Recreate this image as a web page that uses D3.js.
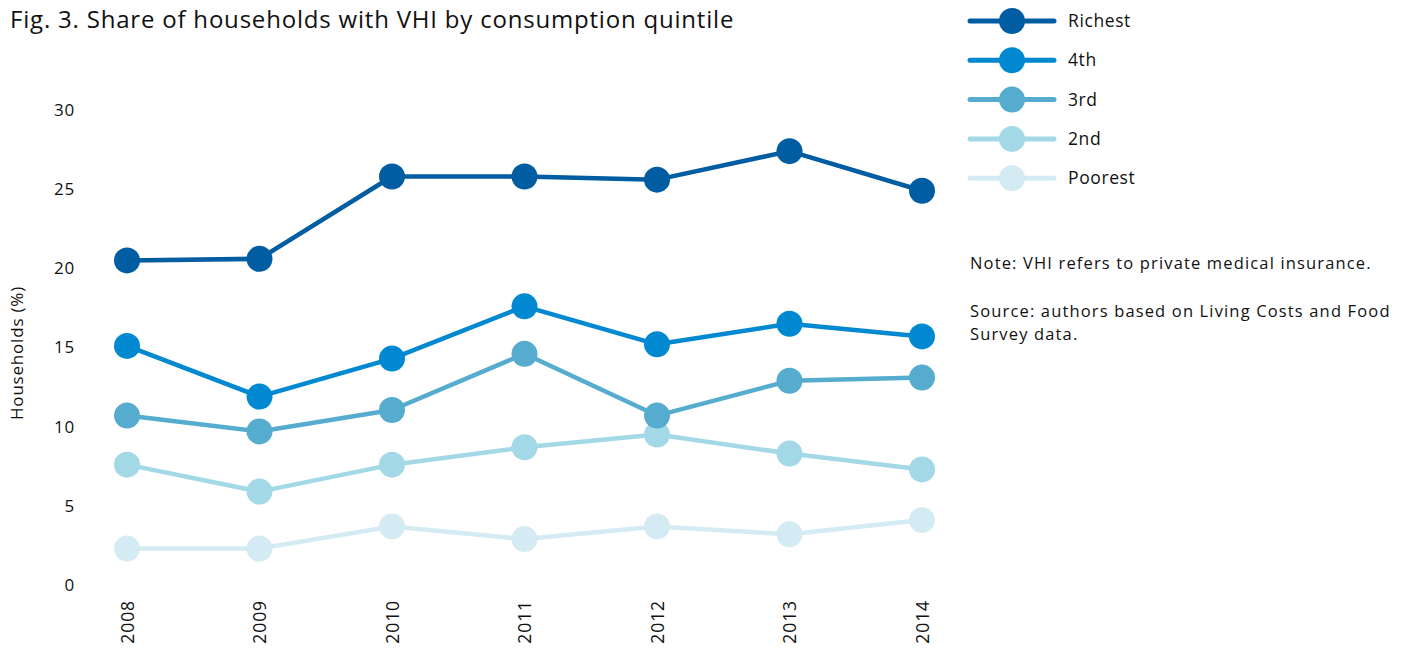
<!DOCTYPE html>
<html><head><meta charset="utf-8">
<script src="https://cdn.jsdelivr.net/npm/d3@7"></script>
<style>body{margin:0;background:#fff;font-family:"Open Sans","Noto Sans",sans-serif;}</style>
</head><body>
<svg id="c" width="1423" height="657"></svg>
<script>
const years = ["2008","2009","2010","2011","2012","2013","2014"];
const seriesNames = ["Richest","4th","3rd","2nd","Poorest"];
const richest = [20.5,20.6,25.8,25.8,25.6,27.4,24.9];
const fourth  = [15.1,11.9,14.3,17.6,15.2,16.5,15.7];
const third   = [10.7,9.7,11.05,14.6,10.7,12.9,13.1];
const second  = [7.6,5.9,7.6,8.7,9.5,8.3,7.3];
const poorest = [2.3,2.3,3.7,2.9,3.7,3.2,4.1];
const colors = ["#005da2","#0089d1","#56acce","#a3d8e6","#d4ebf3"];
const yTicks = [0,5,10,15,20,25,30];
const seriesVals = [richest,fourth,third,second,poorest];

const FF = "Open Sans, Noto Sans, sans-serif";
const svg = d3.select("#c");
const x = d3.scalePoint().domain(years).range([127,922]);
const y = d3.scaleLinear().domain([0,30]).range([585,110]);

svg.append("text").attr("x",10).attr("y",28).attr("font-size",24).attr("letter-spacing",0.8).attr("fill","#111")
  .text("Fig. 3. Share of households with VHI by consumption quintile");

// y axis labels
const yAx = svg.append("g").attr("transform","translate(75,0)")
  .call(d3.axisLeft(y).tickValues(yTicks).tickSize(0).tickPadding(0));
yAx.select(".domain").remove();
yAx.selectAll("text").attr("font-size",17).attr("letter-spacing",0.8).attr("font-family",FF).attr("fill","#111");

svg.append("text").attr("transform","translate(23,353) rotate(-90)").attr("text-anchor","middle")
  .attr("font-size",17).attr("letter-spacing",0.8).attr("fill","#111").text("Households (%)");

// x axis labels
const xAx = svg.append("g").attr("transform","translate(0,600)")
  .call(d3.axisBottom(x).tickSize(0).tickPadding(0));
xAx.select(".domain").remove();
xAx.selectAll(".tick text").attr("font-size",17.5).attr("letter-spacing",0.9).attr("font-family",FF).attr("fill","#111")
  .attr("transform","rotate(-90)").attr("text-anchor","end").attr("x",0).attr("y",0).attr("dy","0.35em");

const line = d3.line().x((d,i)=>x(years[i])).y(d=>y(d));
// draw from poorest to richest so darker on top
for (let s = seriesVals.length-1; s>=0; s--) {
  const g = svg.append("g");
  g.append("path").datum(seriesVals[s]).attr("d",line).attr("fill","none")
    .attr("stroke",colors[s]).attr("stroke-width",4.5).attr("stroke-linejoin","round");
  g.selectAll("circle").data(seriesVals[s]).join("circle")
    .attr("cx",(d,i)=>x(years[i])).attr("cy",d=>y(d)).attr("r",13).attr("fill",colors[s]);
}

// legend
const lg = svg.append("g");
seriesNames.forEach((n,i)=>{
  const yy = 21 + i*39.3;
  lg.append("line").attr("x1",970).attr("x2",1054).attr("y1",yy).attr("y2",yy)
    .attr("stroke",colors[i]).attr("stroke-width",5).attr("stroke-linecap","round");
  lg.append("circle").attr("cx",1012).attr("cy",yy).attr("r",13).attr("fill",colors[i]);
  lg.append("text").attr("x",1068).attr("y",yy+6).attr("font-size",17.5).attr("letter-spacing",0.6).attr("fill","#111").text(n);
});

const notes = [["Note: VHI refers to private medical insurance.",269],["Source: authors based on Living Costs and Food",317],["Survey data.",340]];
notes.forEach(([t,yy])=>svg.append("text").attr("x",970).attr("y",yy).attr("font-size",16.5).attr("letter-spacing",1.15).attr("fill","#111").text(t));
</script>
</body></html>
